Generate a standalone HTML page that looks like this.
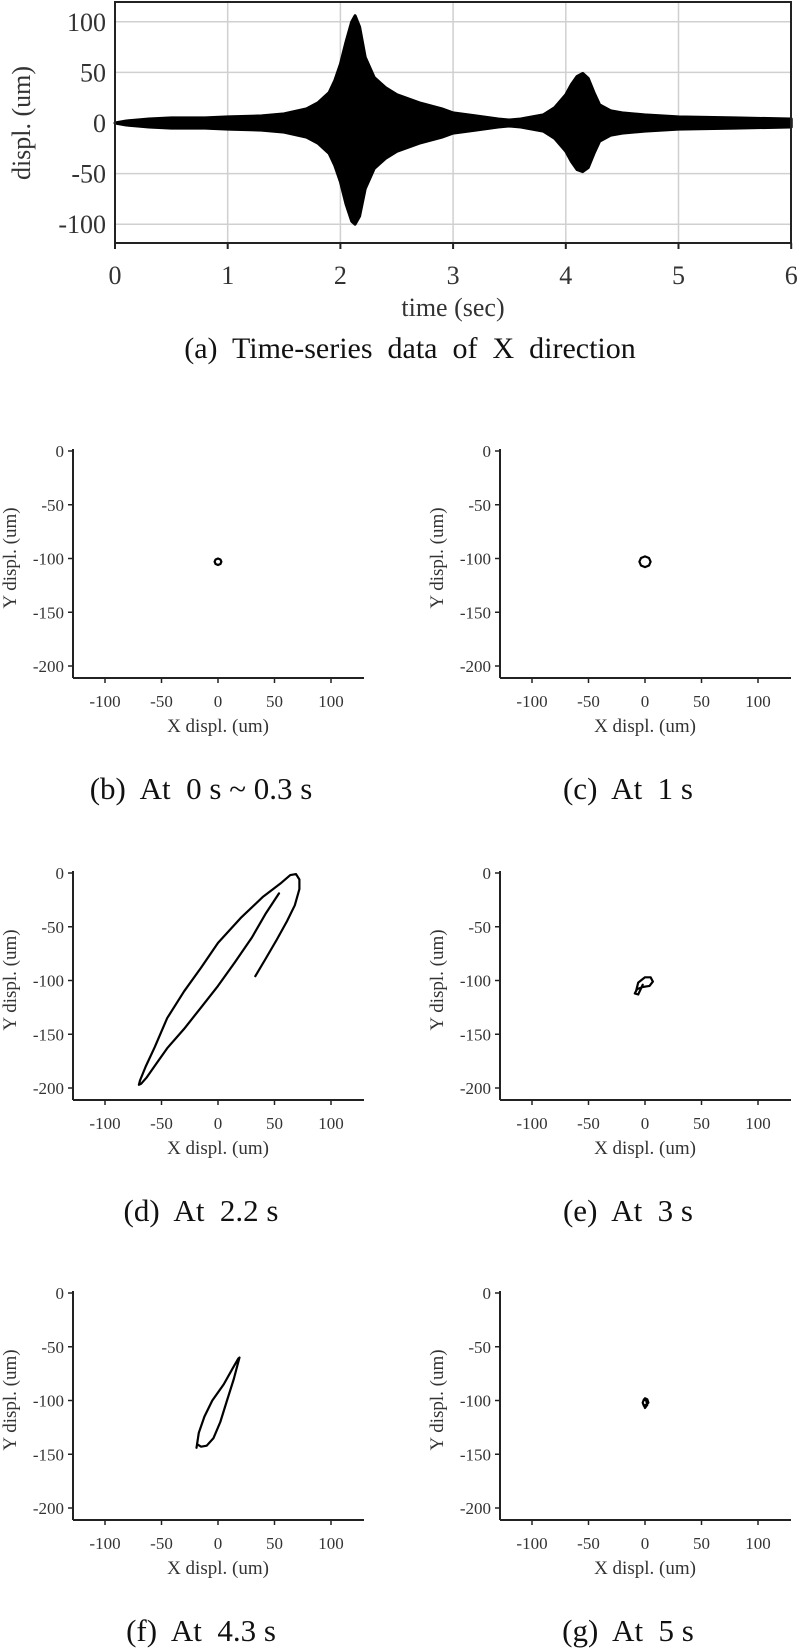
<!DOCTYPE html>
<html><head><meta charset="utf-8"><style>
body{margin:0;background:#fff;}
svg{display:block;font-family:"Liberation Serif",serif;}
.pre{white-space:pre;}
</style></head><body>
<svg id="s" width="800" height="1650" viewBox="0 0 800 1650"></svg>
<script>
// Top chart data (time-series envelope)
const tTimes=[0,0.05,0.1,0.2,0.3,0.5,0.8,1.0,1.3,1.5,1.7,1.8,1.9,1.95,2.0,2.05,2.1,2.13,2.17,2.22,2.3,2.4,2.5,2.7,2.9,3.0,3.2,3.4,3.5,3.6,3.8,3.9,4.0,4.05,4.1,4.15,4.2,4.25,4.3,4.4,4.5,4.7,5.0,5.5,6.0];
const tUpper=[0,1,2,3,4,5,5,6,7,9,14,20,30,42,58,80,100,106,95,65,45,35,28,20,14,10,7,4,3,4,8,15,28,38,46,49,44,30,18,12,10,8,6,5,4];
const tLower=[0,-1,-2,-3,-4,-5,-5,-6,-7,-9,-14,-20,-30,-42,-58,-80,-97,-100,-92,-65,-45,-35,-28,-20,-14,-10,-7,-4,-3,-4,-8,-15,-28,-38,-46,-48,-44,-30,-18,-12,-10,-8,-6,-5,-4];
const tXTicks=[0,1,2,3,4,5,6];
const tYTicks=[100,50,0,-50,-100];
// Orbit data (X, Y displacement, um)
const orbitB_x=[3,2.1,0,-2.1,-3,-2.1,0,2.1,3];
const orbitB_y=[-103,-100.9,-100,-100.9,-103,-105.1,-106,-105.1,-103];
const orbitC_x=[5,3.5,0,-3.5,-5,-3.5,0,3.5,5];
const orbitC_y=[-103,-99.5,-98,-99.5,-103,-106.5,-108,-106.5,-103];
const orbitD_x=[54,42,30,15,0,-15,-30,-45,-55,-63,-68,-70,-69,-64,-56,-45,-30,-15,0,20,40,55,64,69,72,72,68,61,52,42,33];
const orbitD_y=[-19,-38,-60,-83,-105,-125,-145,-163,-178,-190,-196,-197,-193,-180,-162,-135,-110,-88,-65,-42,-22,-10,-2,-1,-6,-15,-30,-45,-62,-80,-96];
const orbitE_x=[-8,-6,0,5,7,4,-2,-7,-9,-6,-2];
const orbitE_y=[-110,-102,-97,-97,-101,-105,-106,-108,-112,-113,-104];
const orbitF_x=[-19,-17,-12,-5,5,13,18,19,17,14,8,2,-4,-10,-15,-18];
const orbitF_y=[-144,-130,-115,-100,-85,-70,-61,-60,-68,-80,-100,-120,-135,-142,-143,-141];
const orbitG_x=[0,2,3,1,-1,-2,-1,1,2,0,-1];
const orbitG_y=[-98,-99,-102,-104,-105,-102,-99,-100,-104,-107,-104];
const oXTicks=[-100,-50,0,50,100];
const oYTicks=[0,-50,-100,-150,-200];

const NS='http://www.w3.org/2000/svg';
const svg=document.getElementById('s');
function mk(tag,attrs,parent,text){const e=document.createElementNS(NS,tag);for(const k in attrs)e.setAttribute(k,attrs[k]);if(text!==undefined)e.textContent=text;(parent||svg).appendChild(e);return e;}

// ---- Top chart ----
const tx=t=>115+t*112.7;
const ty=v=>123-v*1.012;
const g0=mk('g',{});


tXTicks.forEach(t=>{const l=mk('line',{x1:tx(t),x2:tx(t),y1:2,y2:243,stroke:'#d0d0d0','stroke-width':1.5},g0);
});
tYTicks.forEach(v=>{const l=mk('line',{x1:115,x2:791,y1:ty(v),y2:ty(v),stroke:'#d0d0d0','stroke-width':1.5},g0);
});
let d='';
tTimes.forEach((t,i)=>{d+=(i?'L':'M')+tx(t).toFixed(1)+','+ty(tUpper[i]).toFixed(1);});
for(let i=tTimes.length-1;i>=0;i--)d+='L'+tx(tTimes[i]).toFixed(1)+','+ty(tLower[i]).toFixed(1);
const env=mk('path',{d:d+'Z',fill:'#000',stroke:'#000','stroke-width':3,'stroke-linejoin':'round'},g0);


const fr=mk('rect',{x:115,y:2,width:676,height:241,fill:'none',stroke:'#222','stroke-width':2},g0);

tXTicks.forEach(t=>{mk('line',{x1:tx(t),x2:tx(t),y1:243,y2:249,stroke:'#222','stroke-width':2},g0);
const tl=mk('text',{x:tx(t),y:284,'font-size':26,'text-anchor':'middle',fill:'#333'},g0,String(t));
});
tYTicks.forEach(v=>{const tl=mk('text',{x:106,y:ty(v)+9,'font-size':26,'text-anchor':'end',fill:'#333'},g0,String(v));
});
const xt=mk('text',{x:453,y:316,'font-size':26,'text-anchor':'middle',fill:'#333'},g0,'time (sec)');

const yt=mk('text',{x:0,y:0,'font-size':26,'text-anchor':'middle',fill:'#333',transform:'translate(30,123) rotate(-90)'},g0,'displ. (um)');

const ca=mk('text',{x:410,y:358,'font-size':30,'text-anchor':'middle',fill:'#111',class:'pre'},g0,'(a)  Time-series  data  of  X  direction');


// ---- Orbit charts ----
function orbit(axisX,y0,xs,ys,cap,name){
  const x0=axisX+145;
  const sx=v=>x0+v*1.13;
  const sy=v=>y0-v*1.075;
  const yb=y0+227;
  const g=mk('g',{});
  
  
  mk('line',{x1:axisX,x2:axisX,y1:y0-2,y2:yb,stroke:'#222','stroke-width':2},g);
  mk('line',{x1:axisX,x2:axisX+291,y1:yb,y2:yb,stroke:'#222','stroke-width':2},g);
  oXTicks.forEach(v=>{mk('line',{x1:sx(v),x2:sx(v),y1:yb,y2:yb+5,stroke:'#222','stroke-width':1.5},g);
    const t=mk('text',{x:sx(v),y:yb+29,'font-size':17,'text-anchor':'middle',fill:'#333'},g,String(v));
    });
  oYTicks.forEach(v=>{mk('line',{x1:axisX-5,x2:axisX,y1:sy(v),y2:sy(v),stroke:'#222','stroke-width':1.5},g);
    const t=mk('text',{x:axisX-9,y:sy(v)+6,'font-size':17,'text-anchor':'end',fill:'#333'},g,String(v));
    });
  const xl=mk('text',{x:x0,y:yb+54,'font-size':19,'text-anchor':'middle',fill:'#333'},g,'X displ. (um)');
  
  const yl=mk('text',{x:0,y:0,'font-size':19,'text-anchor':'middle',fill:'#333',transform:`translate(${axisX-57},${y0+107}) rotate(-90)`},g,'Y displ. (um)');
  
  let p='';xs.forEach((v,i)=>{p+=(i?'L':'M')+sx(v).toFixed(1)+','+sy(ys[i]).toFixed(1);});
  const pa=mk('path',{d:p,fill:'none',stroke:'#000','stroke-width':2.2,'stroke-linejoin':'round','stroke-linecap':'round'},g);
  
  const c=mk('text',{x:axisX+128,y:yb+121,'font-size':31,'text-anchor':'middle',fill:'#111',class:'pre'},g,cap);
  
}
orbit(73,451,orbitB_x,orbitB_y,'(b)  At  0 s ~ 0.3 s','orbit-chart-b');
orbit(500,451,orbitC_x,orbitC_y,'(c)  At  1 s','orbit-chart-c');
orbit(73,873,orbitD_x,orbitD_y,'(d)  At  2.2 s','orbit-chart-d');
orbit(500,873,orbitE_x,orbitE_y,'(e)  At  3 s','orbit-chart-e');
orbit(73,1293,orbitF_x,orbitF_y,'(f)  At  4.3 s','orbit-chart-f');
orbit(500,1293,orbitG_x,orbitG_y,'(g)  At  5 s','orbit-chart-g');
</script>
</body></html>
